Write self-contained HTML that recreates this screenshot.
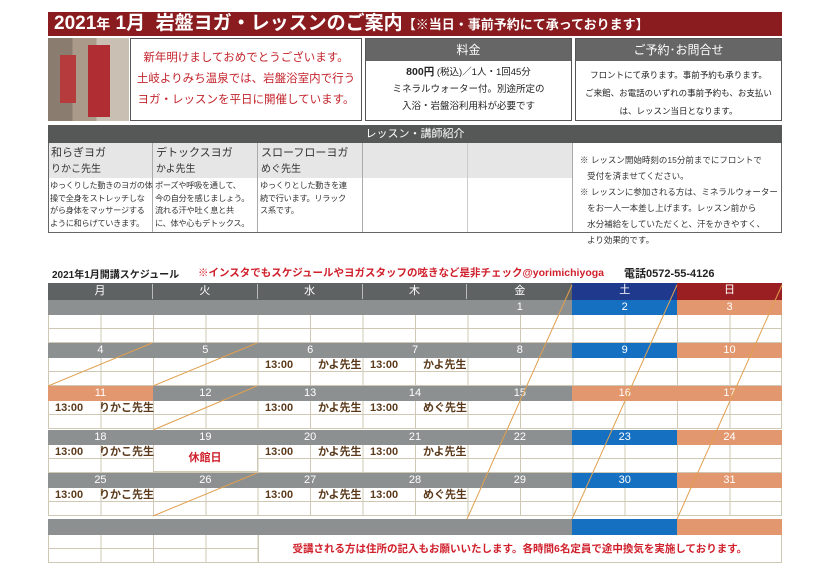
<!DOCTYPE html>
<html><head><meta charset="utf-8"><style>
*{margin:0;padding:0;box-sizing:border-box}
body{width:830px;height:587px;background:#fff;position:relative;overflow:hidden;font-family:"Liberation Sans","Noto Sans CJK JP",sans-serif}
.a{position:absolute}
.g{background:#8d9090}.bl{background:#1670c2}.sa{background:#e3976f}
.db{position:absolute;height:15px;color:#fff;font-size:11px;line-height:15px;text-align:center;width:104.9px}
.sub{position:absolute;left:48px;width:734px;height:28px;background:
linear-gradient(#cfc8b4,#cfc8b4) 0 13px/100% 1px no-repeat,
repeating-linear-gradient(90deg,#cfc8b4 0 1px,transparent 1px 52.43px);border-bottom:1px solid #cfc8b4;border-right:1px solid #cfc8b4}
.t{position:absolute;font-size:11px;font-weight:bold;color:#5b3a1c;line-height:14px}
.nm{position:absolute;font-size:11px;color:#333;line-height:16px;white-space:nowrap}
.tx{position:absolute;font-size:8.2px;color:#333;line-height:12.5px;letter-spacing:-0.3px;white-space:nowrap}
</style></head><body>
<div class="a" style="left:48px;top:12px;width:734px;height:24px;background:#8a1c1f;color:#fff;font-weight:bold;font-size:19px;line-height:24px;padding-left:6px;white-space:nowrap">2021<span style="font-size:14px">年</span> 1月&nbsp; 岩盤ヨガ・レッスンのご案内<span style="font-size:13px">【※当日・事前予約にて承っております】</span></div>
<div class="a" style="left:48px;top:38px;width:81px;height:83px;background:linear-gradient(90deg,#8a7d70 0 30%,#a99a8a 30% 60%,#c9bfb2 60%)"></div>
<div class="a" style="left:60px;top:55px;width:16px;height:48px;background:#b53b3d"></div>
<div class="a" style="left:88px;top:45px;width:22px;height:72px;background:#b02e33"></div>
<div class="a" style="left:130px;top:38px;width:232px;height:83px;border:1px solid #555;color:#c3242c;font-size:11.5px;text-align:center;line-height:21px;padding-top:9px">新年明けましておめでとうございます。<br>土岐よりみち温泉では、岩盤浴室内で行う<br>ヨガ・レッスンを平日に開催しています。</div>
<div class="a" style="left:365px;top:38px;width:207px;height:83px;border:1px solid #555"><div style="background:#666;color:#fff;font-size:12px;text-align:center;height:22px;line-height:22px">料金</div><div style="text-align:center;font-size:9.5px;line-height:17px;color:#222;padding-top:3px"><b style="font-size:10.5px">800円</b> (税込)／1人・1回45分<br>ミネラルウォーター付。別途所定の<br>入浴・岩盤浴利用料が必要です</div></div>
<div class="a" style="left:575px;top:38px;width:207px;height:83px;border:1px solid #555"><div style="background:#666;color:#fff;font-size:12px;text-align:center;height:22px;line-height:22px">ご予約･お問合せ</div><div style="text-align:center;font-size:8.5px;line-height:18px;color:#222;padding-top:5px">フロントにて承ります。事前予約も承ります。<br>ご来館、お電話のいずれの事前予約も、お支払い<br>は、レッスン当日となります。</div></div>
<div class="a" style="left:48px;top:125px;width:734px;height:108px;border:1px solid #666"></div>
<div class="a" style="left:48px;top:125px;width:734px;height:18px;background:#565858;color:#fff;font-size:11px;text-align:center;line-height:18px">レッスン・講師紹介</div>
<div class="a" style="left:49px;top:143px;width:523px;height:35px;background:#e6e6e6"></div>
<div class="a" style="left:152px;top:143px;width:1px;height:89px;background:#aaa"></div>
<div class="a" style="left:257px;top:143px;width:1px;height:89px;background:#aaa"></div>
<div class="a" style="left:362px;top:143px;width:1px;height:89px;background:#aaa"></div>
<div class="a" style="left:467px;top:143px;width:1px;height:89px;background:#ccc"></div>
<div class="a" style="left:572px;top:143px;width:1px;height:89px;background:#aaa"></div>
<div class="nm" style="left:51px;top:145px">和らぎヨガ<br><span style="font-size:10px">りかこ先生</span></div>
<div class="nm" style="left:156px;top:145px">デトックスヨガ<br><span style="font-size:10px">かよ先生</span></div>
<div class="nm" style="left:261px;top:145px">スローフローヨガ<br><span style="font-size:10px">めぐ先生</span></div>
<div class="tx" style="left:50px;top:180px">ゆっくりした動きのヨガの体<br>操で全身をストレッチしな<br>がら身体をマッサージする<br>ように和らげていきます。</div>
<div class="tx" style="left:155px;top:180px">ポーズや呼吸を通して、<br>今の自分を感じましょう。<br>流れる汗や吐く息と共<br>に、体や心もデトックス。</div>
<div class="tx" style="left:260px;top:180px">ゆっくりとした動きを連<br>続で行います。リラック<br>ス系です。</div>
<div class="a" style="left:580px;top:152px;width:200px;font-size:8.5px;line-height:16px;color:#333">※ レッスン開始時刻の15分前までにフロントで<br>&nbsp;&nbsp;&nbsp;受付を済ませてください。<br>※ レッスンに参加される方は、ミネラルウォーター<br>&nbsp;&nbsp;&nbsp;をお一人一本差し上げます。レッスン前から<br>&nbsp;&nbsp;&nbsp;水分補給をしていただくと、汗をかきやすく、<br>&nbsp;&nbsp;&nbsp;より効果的です。</div>
<div class="a" style="left:52px;top:266px;font-size:10px;font-weight:bold;color:#222;white-space:nowrap">2021年1月開講スケジュール</div>
<div class="a" style="left:198px;top:265px;font-size:10.5px;font-weight:bold;color:#d0202c;white-space:nowrap">※インスタでもスケジュールやヨガスタッフの呟きなど是非チェック@yorimichiyoga</div>
<div class="a" style="left:624px;top:265px;font-size:11px;font-weight:bold;color:#222">電話0572-55-4126</div>
<div class="a" style="left:48px;top:283px;width:734px;height:17px;background:#5f6262"></div>
<div class="db" style="left:48px;top:284px;background:#5f6262;border-right:1px solid #bbb">月</div>
<div class="db" style="left:152.9px;top:284px;background:#5f6262;border-right:1px solid #bbb">火</div>
<div class="db" style="left:257.7px;top:284px;background:#5f6262;border-right:1px solid #bbb">水</div>
<div class="db" style="left:362.6px;top:284px;background:#5f6262;border-right:1px solid #bbb">木</div>
<div class="db" style="left:467.4px;top:284px;background:#5f6262">金</div>
<div class="db" style="left:572.3px;top:283px;height:17px;background:#1f3a8c">土</div>
<div class="db" style="left:677.1px;top:283px;height:17px;background:#9a1f22">日</div>
<div class="db g" style="left:48px;top:300px;width:524.3px"></div>
<div class="db g" style="left:467.4px;top:300px">1</div><div class="db bl" style="left:572.3px;top:300px">2</div><div class="db sa" style="left:677.1px;top:300px">3</div>
<div class="sub" style="top:315px"></div>
<div class="db g" style="left:48px;top:343px">4</div><div class="db g" style="left:152.9px;top:343px">5</div><div class="db g" style="left:257.7px;top:343px">6</div><div class="db g" style="left:362.6px;top:343px">7</div><div class="db g" style="left:467.4px;top:343px">8</div><div class="db bl" style="left:572.3px;top:343px">9</div><div class="db sa" style="left:677.1px;top:343px">10</div>
<div class="sub" style="top:358px"></div>
<div class="t" style="left:265px;top:358px">13:00</div><div class="t" style="left:318px;top:358px">かよ先生</div>
<div class="t" style="left:370px;top:358px">13:00</div><div class="t" style="left:423px;top:358px">かよ先生</div>
<div class="db sa" style="left:48px;top:386px">11</div><div class="db g" style="left:152.9px;top:386px">12</div><div class="db g" style="left:257.7px;top:386px">13</div><div class="db g" style="left:362.6px;top:386px">14</div><div class="db g" style="left:467.4px;top:386px">15</div><div class="db sa" style="left:572.3px;top:386px">16</div><div class="db sa" style="left:677.1px;top:386px">17</div>
<div class="sub" style="top:401px"></div>
<div class="t" style="left:55px;top:401px">13:00</div><div class="t" style="left:99px;top:401px">りかこ先生</div>
<div class="t" style="left:265px;top:401px">13:00</div><div class="t" style="left:318px;top:401px">かよ先生</div>
<div class="t" style="left:370px;top:401px">13:00</div><div class="t" style="left:423px;top:401px">めぐ先生</div>
<div class="db g" style="left:48px;top:430px">18</div><div class="db g" style="left:152.9px;top:430px">19</div><div class="db g" style="left:257.7px;top:430px">20</div><div class="db g" style="left:362.6px;top:430px">21</div><div class="db g" style="left:467.4px;top:430px">22</div><div class="db bl" style="left:572.3px;top:430px">23</div><div class="db sa" style="left:677.1px;top:430px">24</div>
<div class="sub" style="top:445px"></div>
<div class="a" style="left:153.5px;top:445px;width:104px;height:27px;background:#fff;border-right:1px solid #cfc8b4;border-bottom:1px solid #cfc8b4;color:#d0202c;font-size:11px;font-weight:bold;text-align:center;line-height:27px">休館日</div>
<div class="t" style="left:55px;top:445px">13:00</div><div class="t" style="left:99px;top:445px">りかこ先生</div>
<div class="t" style="left:265px;top:445px">13:00</div><div class="t" style="left:318px;top:445px">かよ先生</div>
<div class="t" style="left:370px;top:445px">13:00</div><div class="t" style="left:423px;top:445px">かよ先生</div>
<div class="db g" style="left:48px;top:473px">25</div><div class="db g" style="left:152.9px;top:473px">26</div><div class="db g" style="left:257.7px;top:473px">27</div><div class="db g" style="left:362.6px;top:473px">28</div><div class="db g" style="left:467.4px;top:473px">29</div><div class="db bl" style="left:572.3px;top:473px">30</div><div class="db sa" style="left:677.1px;top:473px">31</div>
<div class="sub" style="top:488px"></div>
<div class="t" style="left:55px;top:488px">13:00</div><div class="t" style="left:99px;top:488px">りかこ先生</div>
<div class="t" style="left:265px;top:488px">13:00</div><div class="t" style="left:318px;top:488px">かよ先生</div>
<div class="t" style="left:370px;top:488px">13:00</div><div class="t" style="left:423px;top:488px">めぐ先生</div>
<div class="db g" style="left:48px;top:519px;width:524.3px;height:16px"></div>
<div class="db bl" style="left:572.3px;top:519px;height:16px"></div><div class="db sa" style="left:677.1px;top:519px;height:16px"></div>
<div class="sub" style="top:535px"></div>
<div class="a" style="left:257.7px;top:535px;width:524.3px;height:28px;background:#fff;border:1px solid #cfc8b4;border-top:none;color:#d0202c;font-size:10.5px;font-weight:bold;text-align:center;line-height:28px">受講される方は住所の記入もお願いいたします。各時間6名定員で途中換気を実施しております。</div>
<svg class="a" style="left:0;top:0" width="830" height="587"><g stroke="#e0a050" stroke-width="1">
<line x1="572" y1="285" x2="467" y2="519"/><line x1="677" y1="285" x2="572" y2="519"/><line x1="782" y1="285" x2="677" y2="519"/>
<line x1="152" y1="343" x2="48" y2="386"/><line x1="257" y1="343" x2="153" y2="386"/><line x1="257" y1="386" x2="153" y2="430"/><line x1="257" y1="473" x2="153" y2="516"/></g></svg>
</body></html>
